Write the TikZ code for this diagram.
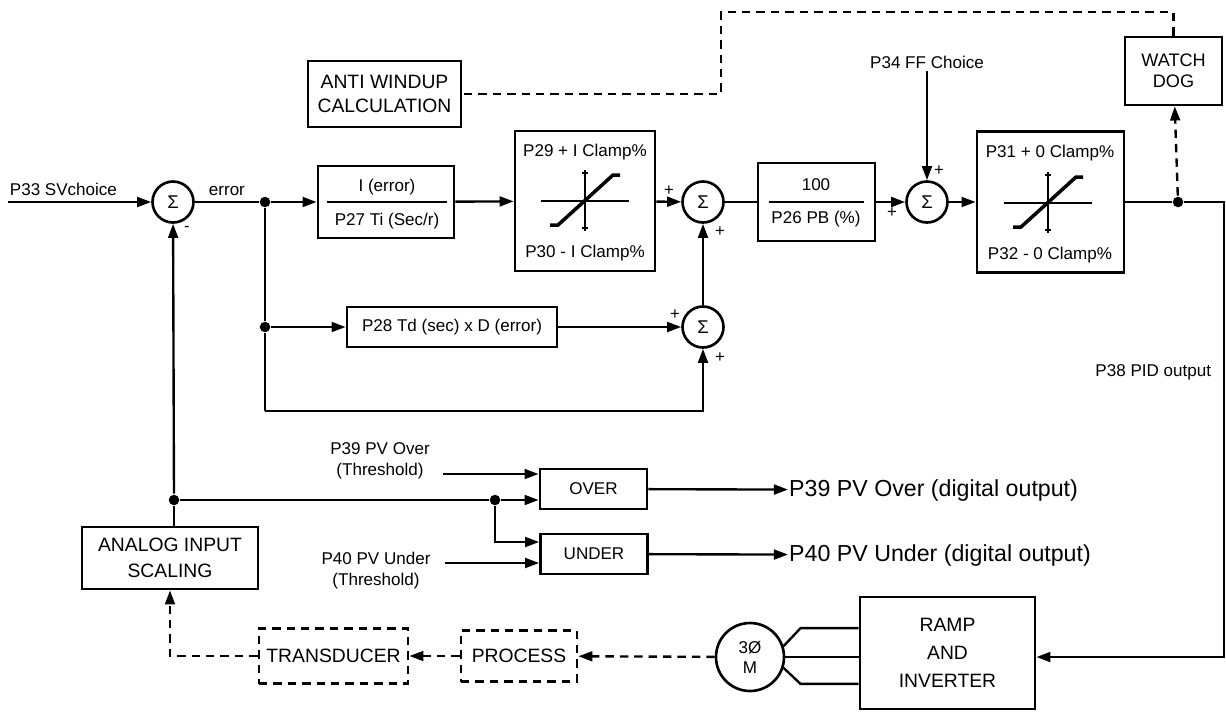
\documentclass[tikz,border=0pt]{standalone}
\usepackage{fontspec}
\setmainfont{Liberation Sans}
\usetikzlibrary{calc, arrows.meta}

\begin{document}
\begin{tikzpicture}[x=0.02cm, y=-0.02cm, line width=1.35pt,
  >={Triangle[length=8pt, width=5.6pt]},
  blk/.style={draw, line width=1.6pt, inner sep=0pt, align=center, font=\fontsize{11}{13.5}\selectfont},
  small/.style={font=\fontsize{9.7}{12}\selectfont, inner sep=1pt, align=center},
  sgn/.style={font=\fontsize{9.5}{10}\selectfont, inner sep=0pt},
  sumnode/.style={draw, circle, line width=1.5pt, minimum size=0.82cm, inner sep=0pt, font=\fontsize{10.5}{12}\selectfont},
  dot/.style={circle, fill, inner sep=0pt, minimum size=6pt},
  dsh/.style={dash pattern=on 4.8pt off 3.4pt},
  big/.style={font=\fontsize{13.2}{16}\selectfont, inner sep=0pt, anchor=west}]

  \useasboundingbox (0,0) rectangle (1226,711);

  % summing points
  \node[sumnode] (s1) at (173,202) {Σ};
  \node[sumnode] (s2) at (703,202) {Σ};
  \node[sumnode] (s3) at (927,202) {Σ};
  \node[sumnode] (s4) at (703,327) {Σ};

  % blocks
  \node[blk, minimum width=2.72cm, minimum height=1.44cm] (iblk) at (386,202) {};
  \node[blk, minimum width=2.8cm, minimum height=2.8cm] (clampi) at (585,201) {};
  \node[blk, minimum width=2.34cm, minimum height=1.56cm] (pblk) at (816.5,202) {};
  \node[blk, minimum width=2.94cm, minimum height=2.82cm] (clampo) at (1050.5,202) {};
  \node[blk, minimum width=4.2cm, minimum height=0.8cm, font=\fontsize{9.7}{12}\selectfont] (dblk) at (452,327) {P28 Td (sec) x D (error)};
  \node[blk, minimum width=3.06cm, minimum height=1.32cm] (anti) at (384.5,94) {ANTI WINDUP\\CALCULATION};
  \node[blk, minimum width=1.94cm, minimum height=1.36cm, font=\fontsize{10.3}{12}\selectfont] (watch) at (1173.5,71) {WATCH\\DOG};
  \node[blk, minimum width=3.52cm, minimum height=1.24cm, font=\fontsize{11}{15}\selectfont] (analog) at (170,558) {ANALOG INPUT\\SCALING};
  \node[blk, minimum width=2.14cm, minimum height=0.8cm, font=\fontsize{9.7}{12}\selectfont] (over) at (593.5,489) {OVER};
  \node[blk, minimum width=2.14cm, minimum height=0.8cm, font=\fontsize{9.7}{12}\selectfont] (under) at (594,554) {UNDER};
  \node[blk, minimum width=3.5cm, minimum height=2.24cm, font=\fontsize{11}{16}\selectfont] (ramp) at (947.5,653) {RAMP\\AND\\INVERTER};
  \node[blk, dsh, minimum width=2.32cm, minimum height=1.02cm] (process) at (519,656) {PROCESS};
  \node[blk, dsh, minimum width=2.98cm, minimum height=1.1cm] (trans) at (333.5,656) {TRANSDUCER};
  \node[draw, circle, line width=1.5pt, minimum size=1.36cm, inner sep=0pt, small, font=\fontsize{9.7}{11.3}\selectfont] (motor) at (750,657) {3Ø\\M};

  % texts inside the blocks
  \node[small] (inum) at (387,187) {I (error)};
  \node[small] (iden) at (387,221) {P27 Ti (Sec/r)};
  \draw[line width=0.9pt] ($(iblk.west)+(10,0)$) -- ($(iblk.east)+(-8,0)$);
  \node[small] (pnum) at (816,185) {100};
  \node[small] (pden) at (816,219) {P26 PB (\%)};
  \draw[line width=0.9pt] ($(pblk.west)+(12,0)$) -- ($(pblk.east)+(-12,0)$);
  \node[small] (t29) at (585,152) {P29 + I Clamp\%};
  \node[small] (t30) at (585,253) {P30 - I Clamp\%};
  \node[small] (t31) at (1050,153) {P31 + 0 Clamp\%};
  \node[small] (t32) at (1050,255) {P32 - 0 Clamp\%};

  % clamp curves
  \coordinate (ci) at (585,201);
  \coordinate (co) at (1048,203);
  \foreach \o in {ci,co} {
    \begin{scope}[shift={(\o)}]
      \draw[line width=0.9pt] (-44,0) -- (44,0);
      \draw[line width=0.9pt] (0,-31) -- (0,30);
      \draw[line width=0.9pt] (-3,-28) -- (3,-28);
      \draw[line width=0.9pt] (-3,27) -- (3,27);
      \draw[line width=2pt] (-35,24) -- (-27,24) -- (28,-26) -- (35,-26);
    \end{scope}
  }

  % junctions
  \node[dot] (j1) at (265,202) {};
  \node[dot] (j2) at (265,327) {};
  \node[dot] (j3) at (174,500) {};
  \node[dot] (j4) at (495,500) {};
  \node[dot] (jout) at (1178,202) {};
  \coordinate (j2b) at (265,411);
  \coordinate (rc) at (1224,202);
  \coordinate (svin) at (8,202);
  \coordinate (k) at (721,12);
  \coordinate (thi) at (443,474);
  \coordinate (thu) at (445,563);

  % labels
  \node[small, anchor=base west] (sv) at (7,195) {P33 SVchoice};
  \node[small, anchor=base west] (err) at (206,195) {error};
  \node[small] (ff) at (927,62) {P34 FF Choice};
  \node[small, anchor=east] (pid) at (1214,372) {P38 PID output};
  \node[small] (thov) at (380,461) {P39 PV Over\\(Threshold)};
  \node[small] (thun) at (376,571) {P40 PV Under\\(Threshold)};
  \node[big] (outo) at (788,490) {P39 PV Over (digital output)};
  \node[big] (outu) at (788,555) {P40 PV Under (digital output)};
  \node[sgn] at (187,229) {-};
  \node[sgn] at (669,191) {+};
  \node[sgn] at (720,232) {+};
  \node[sgn] at (892,213) {+};
  \node[sgn] at (939,171) {+};
  \node[sgn] at (675,315) {+};
  \node[sgn] at (720,358) {+};

  % forward path
  \draw[->] (svin) -- (s1);
  \draw (s1) -- (j1);
  \draw[->] (j1) -- (iblk);
  \draw[->] (iblk) -- (clampi);
  \draw[->] (clampi) -- (s2);
  \draw (s2) -- (pblk);
  \draw[->] (pblk) -- (s3);
  \draw[->] (ff) -- (s3);
  \draw[->] (s3) -- (clampo);
  \draw (clampo) -- (jout);
  \draw[->] (jout) -- (rc) |- (ramp.east |- motor);

  % derivative branch
  \draw (j1) -- (j2);
  \draw[->] (j2) -- (dblk);
  \draw (j2) -- (j2b);
  \draw[->] (j2b) -| (s4);
  \draw[->] (dblk) -- (s4);
  \draw[->] (s4) -- (s2);

  % watchdog
  \draw[->, dsh] (jout) -- (watch);
  \draw[dsh] (watch.north) |- (k) |- (anti.east);

  % feedback
  \draw (analog.north -| j3) -- (j3);
  \draw[->] (j3) -- (s1);
  \draw (j3) -- (j4);
  \draw[->] (j4) -- (over.west |- j4);
  \draw[->] (j4) |- ($(under.west)+(0,-12)$);
  \draw[->] (thi) -- (over.west |- thi);
  \draw[->] (thu) -- (under.west |- thu);
  \draw[->] (over) -- (outo);
  \draw[->] (under) -- (outu);

  % motor
  \draw (motor.east) -- (motor.east -| ramp.west);
  \draw (motor.18) -- ++(17,-18) coordinate (w1) -- (w1 -| ramp.west);
  \draw (motor.-18) -- ++(17,16) coordinate (w2) -- (w2 -| ramp.west);
  \draw[->, dsh] (motor) -- (process);
  \draw[->, dsh] (process) -- (trans);
  \draw[->, dsh] (trans) -| (analog);
\end{tikzpicture}
\end{document}
